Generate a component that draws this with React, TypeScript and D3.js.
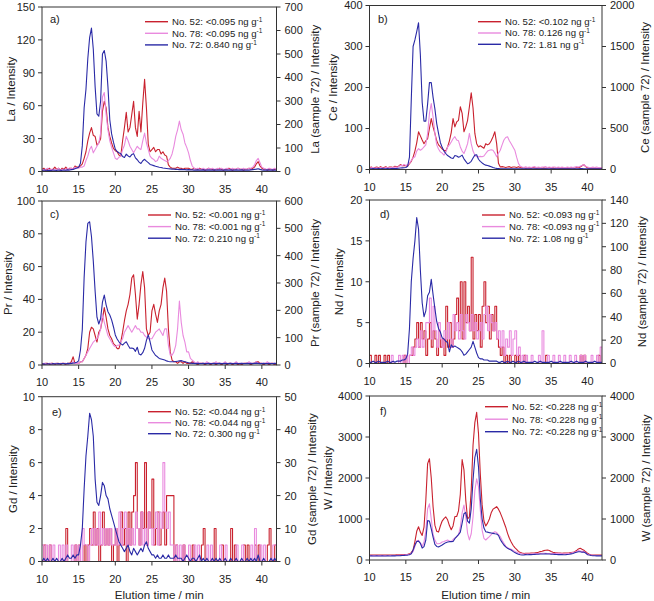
import React from "react";
import * as d3 from "d3";

// ---------- DATA ----------
const TIME = [
  10, 10.25, 10.5, 10.75, 11, 11.25, 11.5, 11.75, 12, 12.25, 12.5, 12.75, 13, 13.25, 13.5, 13.75,
  14, 14.25, 14.5, 14.75, 15, 15.25, 15.5, 15.75, 16, 16.25, 16.5, 16.75, 17, 17.25, 17.5, 17.75,
  18, 18.25, 18.5, 18.75, 19, 19.25, 19.5, 19.75, 20, 20.25, 20.5, 20.75, 21, 21.25, 21.5, 21.75,
  22, 22.25, 22.5, 22.75, 23, 23.25, 23.5, 23.75, 24, 24.25, 24.5, 24.75, 25, 25.25, 25.5, 25.75,
  26, 26.25, 26.5, 26.75, 27, 27.25, 27.5, 27.75, 28, 28.25, 28.5, 28.75, 29, 29.25, 29.5, 29.75,
  30, 30.25, 30.5, 30.75, 31, 31.25, 31.5, 31.75, 32, 32.25, 32.5, 32.75, 33, 33.25, 33.5, 33.75,
  34, 34.25, 34.5, 34.75, 35, 35.25, 35.5, 35.75, 36, 36.25, 36.5, 36.75, 37, 37.25, 37.5, 37.75,
  38, 38.25, 38.5, 38.75, 39, 39.25, 39.5, 39.75, 40, 40.25, 40.5, 40.75, 41, 41.25, 41.5, 41.75,
  42,
];

const X_TICKS = [10, 15, 20, 25, 30, 35, 40];
const SAMPLES = ["No. 52", "No. 78", "No. 72"];

// a) La
const LA_52 = [
  2, 3, 1, 2, 3, 1, 2, 4, 2, 3, 1, 3, 2, 4, 2, 3,
  3, 2, 5, 4, 4, 5, 7, 12, 18, 28, 35, 40, 33, 32, 24, 26,
  30, 55, 64, 58, 40, 32, 26, 21, 19, 18, 15, 14, 28, 40, 54, 36,
  40, 52, 64, 40, 32, 55, 36, 62, 84, 58, 25, 18, 20, 22, 18, 20,
  20, 16, 18, 15, 14, 6, 4, 3, 3, 3, 4, 3, 3, 2, 3, 3,
  3, 2, 2, 3, 2, 2, 3, 2, 2, 1, 2, 3, 2, 2, 1, 2,
  2, 3, 2, 1, 2, 2, 3, 2, 1, 2, 2, 3, 2, 2, 1, 2,
  2, 3, 2, 3, 4, 7, 9, 5, 3, 2, 2, 1, 2, 2, 1, 2,
  2,
];
const LA_78 = [
  2, 1, 2, 3, 1, 2, 2, 1, 2, 3, 1, 2, 2, 1, 3, 2,
  3, 2, 4, 3, 3, 4, 4, 5, 10, 14, 20, 23, 17, 20, 23, 26,
  35, 68, 72, 52, 38, 28, 22, 17, 12, 11, 13, 14, 20, 24, 32, 28,
  23, 20, 17, 20, 23, 21, 20, 28, 35, 26, 20, 14, 12, 11, 9, 10,
  14, 12, 11, 10, 9, 10, 12, 16, 23, 32, 38, 46, 38, 34, 26, 22,
  17, 10, 5, 3, 2, 3, 2, 2, 3, 2, 2, 3, 2, 3, 2, 2,
  3, 2, 3, 2, 2, 3, 2, 2, 3, 2, 2, 3, 2, 2, 3, 2,
  2, 3, 3, 4, 6, 10, 12, 8, 4, 3, 2, 2, 3, 2, 2, 3,
  2,
];
const LA_72 = [
  4, 6, 5, 4, 5, 4, 6, 5, 4, 6, 5, 5, 6, 5, 7, 6,
  8, 9, 12, 15, 18, 35, 110, 270, 350, 480, 570, 610, 520, 360, 245, 235,
  300, 500, 515, 470, 360, 220, 160, 125, 95, 85, 80, 76, 64, 60, 74, 66,
  62, 72, 76, 58, 50, 40, 34, 46, 52, 44, 38, 30, 28, 25, 22, 20,
  18, 17, 15, 14, 13, 12, 11, 10, 10, 9, 9, 8, 9, 8, 8, 7,
  8, 7, 7, 6, 6, 7, 6, 6, 7, 6, 6, 7, 6, 6, 7, 6,
  6, 7, 6, 6, 7, 6, 6, 7, 6, 6, 7, 6, 6, 7, 6, 6,
  6, 6, 7, 8, 9, 10, 12, 9, 7, 6, 6, 7, 6, 6, 7, 6,
  6,
];
const LA_TICKS = [0, 30, 60, 90, 120, 150];
const LA72_TICKS = [0, 100, 200, 300, 400, 500, 600, 700];
const LA_CONC = ["<0.095", "<0.095", "0.840"];

// b) Ce
const CE_52 = [
  4, 6, 3, 5, 6, 4, 7, 5, 5, 7, 4, 6, 6, 5, 8, 6,
  8, 12, 9, 10, 9, 8, 14, 20, 30, 45, 65, 92, 82, 72, 63, 70,
  75, 100, 124, 104, 88, 70, 60, 55, 50, 47, 45, 55, 70, 90, 124, 104,
  116, 120, 153, 137, 92, 104, 120, 153, 187, 150, 88, 63, 55, 58, 55, 52,
  63, 60, 63, 70, 80, 92, 63, 15, 6, 7, 6, 5, 6, 7, 5, 6,
  6, 5, 7, 5, 4, 5, 3, 4, 4, 3, 5, 4, 3, 4, 4, 3,
  4, 3, 4, 5, 3, 4, 3, 4, 4, 3, 4, 3, 3, 4, 3, 4,
  4, 3, 5, 4, 6, 9, 12, 7, 4, 3, 4, 3, 4, 3, 3, 4,
  3,
];
const CE_78 = [
  3, 4, 5, 3, 4, 3, 5, 4, 3, 5, 4, 4, 5, 4, 6, 5,
  7, 10, 9, 12, 10, 12, 15, 22, 28, 31, 45, 51, 47, 50, 55, 60,
  88, 137, 161, 128, 88, 60, 50, 43, 40, 35, 42, 55, 60, 67, 75, 80,
  72, 70, 55, 45, 39, 50, 63, 88, 63, 45, 35, 31, 31, 32, 31, 33,
  39, 45, 47, 48, 47, 40, 31, 40, 47, 60, 72, 78, 80, 70, 63, 55,
  47, 30, 15, 8, 6, 5, 7, 5, 6, 5, 6, 7, 5, 6, 5, 6,
  6, 7, 5, 6, 5, 6, 6, 5, 6, 5, 6, 5, 5, 6, 5, 6,
  5, 6, 7, 6, 8, 10, 12, 8, 6, 5, 5, 6, 5, 6, 5, 5,
  5,
];
const CE_72 = [
  10, 8, 12, 9, 10, 12, 9, 11, 10, 9, 12, 10, 12, 11, 13, 12,
  15, 18, 20, 22, 25, 40, 150, 850, 1500, 1580, 1680, 1790, 1400, 820, 590, 590,
  800, 1060, 1060, 880, 740, 560, 440, 330, 270, 225, 195, 170, 155, 140, 135, 170,
  165, 150, 160, 175, 130, 100, 70, 80, 100, 140, 175, 180, 125, 100, 80, 65,
  53, 48, 41, 34, 24, 18, 14, 12, 10, 9, 10, 8, 9, 10, 8, 9,
  8, 9, 10, 8, 9, 8, 9, 10, 8, 9, 8, 9, 10, 8, 9, 8,
  9, 10, 8, 9, 8, 9, 10, 8, 9, 8, 9, 8, 10, 9, 8, 9,
  8, 10, 9, 10, 11, 12, 10, 9, 8, 9, 8, 9, 10, 8, 9, 8,
  9,
];
const CE_TICKS = [0, 100, 200, 300, 400];
const CE72_TICKS = [0, 500, 1000, 1500, 2000];
const CE_CONC = ["<0.102", "0.126", "1.81"];

// c) Pr
const PR_52 = [
  1, 0, 1, 1, 0, 1, 1, 0, 1, 1, 0, 1, 1, 0, 1, 1,
  2, 5, 1, 1, 1, 2, 2, 4, 6, 10, 20, 23, 22, 18, 14, 20,
  22, 28, 35, 29, 22, 18, 16, 13, 12, 10, 10, 14, 20, 27, 33, 37,
  43, 53, 55, 43, 28, 37, 49, 57, 47, 22, 18, 20, 33, 37, 31, 26,
  33, 37, 47, 53, 45, 22, 8, 3, 2, 2, 1, 2, 2, 1, 2, 1,
  1, 1, 2, 1, 1, 0, 1, 1, 1, 0, 1, 1, 0, 1, 1, 0,
  1, 1, 0, 1, 1, 0, 1, 1, 0, 1, 1, 0, 1, 0, 1, 1,
  1, 1, 0, 1, 1, 2, 2, 1, 1, 0, 1, 1, 0, 1, 1, 0,
  1,
];
const PR_78 = [
  0, 1, 1, 0, 1, 1, 0, 1, 1, 0, 1, 1, 1, 1, 0, 1,
  1, 2, 1, 1, 1, 2, 2, 4, 6, 8, 10, 12, 14, 15, 16, 18,
  22, 31, 26, 22, 18, 16, 14, 12, 11, 12, 12, 14, 16, 20, 22, 24,
  22, 20, 22, 24, 22, 22, 20, 20, 18, 17, 16, 16, 16, 18, 20, 21,
  22, 20, 18, 22, 22, 12, 6, 6, 8, 12, 22, 39, 26, 18, 14, 8,
  8, 4, 3, 2, 1, 2, 1, 1, 1, 1, 2, 1, 1, 1, 1, 2,
  1, 1, 1, 1, 2, 1, 1, 1, 1, 1, 2, 1, 1, 1, 1, 1,
  1, 2, 1, 1, 1, 2, 1, 1, 1, 1, 1, 2, 1, 1, 1, 1,
  1,
];
const PR_72 = [
  3, 4, 3, 4, 4, 3, 5, 4, 4, 5, 4, 5, 5, 4, 6, 5,
  6, 7, 8, 10, 15, 55, 130, 320, 450, 518, 524, 470, 380, 270, 175, 150,
  170, 230, 256, 220, 195, 183, 165, 140, 110, 95, 85, 78, 73, 80, 85, 72,
  61, 62, 60, 50, 65, 40, 37, 45, 61, 90, 110, 85, 55, 45, 35, 30,
  24, 22, 20, 18, 15, 13, 12, 12, 12, 13, 14, 15, 16, 14, 12, 10,
  8, 7, 6, 6, 5, 6, 5, 5, 6, 5, 5, 6, 5, 5, 6, 5,
  5, 6, 5, 5, 6, 5, 5, 6, 5, 5, 6, 5, 5, 6, 5, 5,
  6, 5, 6, 5, 6, 7, 6, 5, 5, 6, 5, 5, 6, 5, 5, 6,
  5,
];
const PR_TICKS = [0, 20, 40, 60, 80, 100];
const PR72_TICKS = [0, 100, 200, 300, 400, 500, 600];
const PR_CONC = ["<0.001", "<0.001", "0.210"];

// d) Nd
const ND_52 = [
  1, 0, 0, 1, 0, 1, 0, 0, 1, 0, 1, 0, 0, 0, 0, 0,
  0, 0, 0, 1, 0, 0, 1, 1, 2, 3, 5, 2, 5, 3, 4, 1,
  3, 5, 2, 4, 3, 1, 4, 2, 3, 1, 7, 2, 5, 2, 3, 6,
  8, 4, 10, 3, 10, 5, 7, 4, 13, 3, 6, 4, 6, 2, 7, 10,
  5, 7, 3, 6, 4, 7, 3, 2, 1, 2, 0, 1, 0, 1, 0, 0,
  1, 0, 1, 0, 0, 1, 0, 0, 0, 0, 0, 0, 0, 0, 0, 0,
  0, 1, 0, 0, 0, 0, 0, 0, 0, 0, 0, 0, 0, 0, 0, 0,
  0, 0, 0, 0, 1, 0, 1, 0, 0, 0, 0, 0, 0, 0, 1, 0,
  0,
];
const ND_78 = [
  0, 0, 0, 0, 0, 0, 0, 0, 0, 0, 0, 0, 1, 0, 0, 0,
  1, 0, 1, 0, 1, 0, 1, 2, 1, 2, 3, 2, 4, 2, 3, 5,
  5, 8, 3, 7, 4, 2, 5, 3, 2, 4, 3, 5, 3, 2, 6, 4,
  5, 3, 6, 4, 3, 6, 5, 4, 6, 4, 5, 3, 4, 5, 3, 6,
  7, 4, 6, 5, 4, 5, 3, 4, 2, 4, 1, 3, 2, 4, 1, 3,
  4, 1, 2, 0, 1, 0, 1, 0, 0, 1, 0, 0, 0, 1, 0, 4,
  0, 0, 1, 0, 0, 1, 0, 0, 1, 0, 0, 1, 0, 0, 1, 0,
  0, 1, 0, 0, 1, 0, 1, 0, 0, 0, 1, 0, 0, 1, 0, 2,
  0,
];
const ND_72 = [
  1, 1, 2, 1, 1, 2, 1, 1, 1, 1, 2, 1, 1, 2, 1, 2,
  2, 2, 3, 3, 4, 8, 30, 70, 90, 105, 125, 115, 80, 52, 40, 45,
  58, 61, 72, 59, 47, 36, 30, 27, 22, 21, 19, 18, 10, 16, 14, 15,
  14, 13, 12, 10, 7, 8, 10, 12, 14, 19, 14, 9, 5, 4, 4, 3,
  3, 3, 2, 2, 2, 2, 2, 1, 1, 2, 1, 1, 2, 1, 1, 2,
  1, 1, 2, 1, 1, 2, 1, 1, 1, 1, 1, 2, 1, 1, 2, 1,
  1, 1, 1, 1, 2, 1, 1, 1, 1, 2, 1, 1, 1, 1, 1, 2,
  1, 1, 2, 1, 1, 1, 1, 2, 1, 1, 1, 1, 2, 1, 1, 1,
  1,
];
const ND_TICKS = [0, 5, 10, 15, 20];
const ND72_TICKS = [0, 20, 40, 60, 80, 100, 120, 140];
const ND_CONC = ["<0.093", "<0.093", "1.08"];

// e) Gd
const GD_52 = [
  0, 1, 0, 0, 1, 0, 0, 0, 0, 0, 0, 0, 0, 2, 0, 0,
  0, 0, 1, 0, 1, 0, 0, 1, 0, 1, 2, 1, 3, 1, 2, 0,
  1, 3, 1, 2, 1, 2, 0, 1, 2, 0, 1, 3, 1, 2, 0, 3,
  1, 3, 4, 6, 2, 1, 3, 2, 6, 1, 3, 2, 5, 1, 2, 3,
  1, 2, 3, 1, 4, 4, 4, 4, 0, 1, 0, 0, 0, 1, 0, 0,
  0, 0, 1, 0, 0, 0, 0, 1, 2, 0, 0, 0, 0, 0, 2, 0,
  0, 0, 1, 0, 0, 0, 0, 2, 0, 1, 0, 0, 0, 0, 1, 0,
  1, 0, 0, 0, 1, 0, 1, 0, 0, 0, 0, 1, 2, 0, 0, 1,
  0,
];
const GD_78 = [
  1, 0, 1, 0, 1, 0, 1, 0, 0, 1, 0, 1, 0, 1, 0, 0,
  1, 0, 1, 0, 1, 0, 2, 1, 1, 0, 1, 2, 1, 2, 1, 3,
  1, 2, 1, 2, 1, 2, 1, 1, 2, 1, 3, 1, 2, 3, 1, 2,
  1, 2, 1, 3, 2, 1, 3, 1, 2, 1, 3, 2, 1, 2, 3, 1,
  3, 2, 6, 3, 2, 3, 1, 1, 0, 1, 0, 1, 0, 1, 0, 0,
  1, 0, 0, 1, 0, 1, 0, 0, 0, 0, 1, 0, 1, 0, 0, 0,
  0, 1, 0, 0, 1, 0, 0, 0, 0, 0, 1, 0, 0, 1, 0, 0,
  0, 0, 1, 0, 2, 0, 0, 1, 0, 1, 0, 0, 0, 0, 1, 1,
  0,
];
const GD_72 = [
  0, 1, 0, 1, 0, 0, 1, 0, 1, 0, 0, 1, 0, 1, 2, 1,
  1, 2, 1, 2, 2, 5, 10, 22, 32, 38, 45, 43, 38, 25, 18, 17,
  20, 24, 23, 20, 19, 16, 14, 12, 10, 8, 6, 5, 4, 3, 4, 5,
  3, 2, 4, 3, 2, 3, 4, 3, 5, 6, 4, 3, 2, 2, 1, 2,
  1, 1, 2, 1, 1, 2, 1, 1, 1, 2, 1, 1, 1, 0, 1, 2,
  1, 0, 1, 1, 0, 1, 2, 0, 1, 0, 1, 0, 0, 1, 0, 1,
  0, 1, 0, 0, 1, 0, 0, 1, 0, 0, 1, 0, 0, 1, 0, 0,
  1, 0, 1, 0, 1, 0, 2, 0, 0, 1, 0, 0, 0, 1, 0, 1,
  0,
];
const GD_TICKS = [0, 2, 4, 6, 8, 10];
const GD72_TICKS = [0, 10, 20, 30, 40, 50];
const GD_CONC = ["<0.044", "<0.044", "0.300"];

// f) W
const W_52 = [
  120, 118, 122, 120, 121, 119, 120, 122, 120, 121, 119, 122, 121, 123, 122, 124,
  125, 127, 130, 132, 135, 140, 150, 180, 244, 450, 700, 810, 680, 600, 800, 1450,
  2350, 2470, 2000, 1300, 850, 700, 680, 830, 950, 1010, 1050, 980, 840, 740, 830, 1060,
  1060, 1200, 1600, 2450, 2200, 1460, 1000, 1050, 1700, 2800, 3350, 3600, 3090, 2100, 1350, 950,
  830, 900, 1000, 1150, 1240, 1270, 1300, 1240, 1150, 1040, 920, 800, 650, 530, 440, 360,
  300, 260, 210, 185, 170, 160, 165, 163, 165, 170, 172, 175, 180, 190, 205, 215,
  228, 238, 244, 230, 205, 190, 180, 175, 170, 168, 165, 168, 170, 172, 175, 180,
  185, 200, 230, 270, 285, 260, 240, 200, 165, 140, 125, 122, 120, 121, 120, 122,
  120,
];
const W_78 = [
  108, 106, 110, 107, 106, 109, 107, 108, 107, 106, 109, 108, 110, 108, 111, 112,
  114, 116, 118, 120, 125, 130, 140, 160, 203, 330, 470, 480, 420, 330, 440, 700,
  1250, 1370, 1000, 620, 488, 400, 395, 410, 440, 450, 470, 488, 460, 450, 500, 540,
  569, 620, 800, 1150, 1340, 1060, 650, 490, 640, 1050, 1700, 1980, 1790, 1220, 730, 528,
  488, 530, 570, 620, 660, 690, 670, 620, 569, 480, 410, 340, 300, 280, 260, 240,
  210, 190, 170, 155, 150, 146, 145, 146, 147, 148, 150, 152, 155, 158, 160, 163,
  165, 163, 160, 160, 160, 158, 160, 162, 160, 155, 150, 150, 152, 155, 160, 170,
  179, 190, 210, 228, 220, 205, 210, 180, 140, 130, 120, 115, 112, 110, 108, 110,
  108,
];
const W_72 = [
  98, 100, 97, 99, 100, 98, 99, 101, 99, 98, 100, 99, 100, 102, 101, 103,
  105, 107, 110, 112, 115, 120, 130, 150, 244, 366, 450, 460, 407, 290, 325, 488,
  960, 950, 760, 560, 380, 330, 320, 340, 366, 395, 423, 440, 447, 447, 450, 520,
  570, 620, 680, 900, 1130, 1160, 950, 900, 1250, 1950, 2500, 2700, 2276, 1500, 1000, 780,
  691, 680, 667, 660, 650, 640, 634, 600, 500, 430, 366, 320, 285, 260, 244, 210,
  180, 160, 140, 130, 122, 125, 130, 128, 130, 132, 135, 138, 140, 142, 145, 145,
  148, 150, 148, 145, 142, 140, 138, 135, 132, 130, 130, 128, 130, 135, 140, 150,
  160, 175, 190, 200, 200, 190, 195, 170, 130, 120, 110, 105, 102, 100, 100, 102,
  100,
];
const W_TICKS = [0, 1000, 2000, 3000, 4000];
const W72_TICKS = [0, 1000, 2000, 3000, 4000];
const W_CONC = ["<0.228", "<0.228", "<0.228"];

// ---------- STYLE / LAYOUT ----------
const COLORS = ["#c9212e", "#e98ade", "#2a2aa6"];
const FONT = "'Liberation Sans', Arial, sans-serif";

type PanelDef = {
  label: string;
  el: string;
  x0: number;
  x1: number;
  top: number;
  bottom: number;
  lTicks: number[];
  rTicks: number[];
  conc: string[];
  s52: number[];
  s78: number[];
  s72: number[];
  step: boolean;
  ltX: number;
  rtX: number;
  legX: number;
  legY: number;
  legDy: number;
  labelX: number;
  labelY: number;
  xLabel: boolean;
};

const LEFT = { x0: 42, x1: 276.5 };
const RIGHT = { x0: 369.5, x1: 602 };

const PANELS: PanelDef[] = [
  { label: "a)", el: "La", ...LEFT, top: 7, bottom: 171.5, lTicks: LA_TICKS, rTicks: LA72_TICKS, conc: LA_CONC,
    s52: LA_52, s78: LA_78, s72: LA_72, step: false, ltX: 15, rtX: 318.5, legX: 145, legY: 21.7, legDy: 11.6, labelX: 50, labelY: 23, xLabel: false },
  { label: "b)", el: "Ce", ...RIGHT, top: 5.5, bottom: 169.5, lTicks: CE_TICKS, rTicks: CE72_TICKS, conc: CE_CONC,
    s52: CE_52, s78: CE_78, s72: CE_72, step: false, ltX: 336.5, rtX: 649, legX: 478, legY: 21.7, legDy: 11.3, labelX: 378, labelY: 23, xLabel: false },
  { label: "c)", el: "Pr", ...LEFT, top: 201, bottom: 365, lTicks: PR_TICKS, rTicks: PR72_TICKS, conc: PR_CONC,
    s52: PR_52, s78: PR_78, s72: PR_72, step: false, ltX: 11.5, rtX: 318.5, legX: 148, legY: 215, legDy: 11.6, labelX: 50, labelY: 218, xLabel: false },
  { label: "d)", el: "Nd", ...RIGHT, top: 200, bottom: 363.5, lTicks: ND_TICKS, rTicks: ND72_TICKS, conc: ND_CONC,
    s52: ND_52, s78: ND_78, s72: ND_72, step: true, ltX: 343, rtX: 645.5, legX: 482, legY: 215, legDy: 11.6, labelX: 380, labelY: 218, xLabel: false },
  { label: "e)", el: "Gd", ...LEFT, top: 396.7, bottom: 561.5, lTicks: GD_TICKS, rTicks: GD72_TICKS, conc: GD_CONC,
    s52: GD_52, s78: GD_78, s72: GD_72, step: true, ltX: 16.5, rtX: 315.5, legX: 148, legY: 411.7, legDy: 11, labelX: 52, labelY: 416, xLabel: true },
  { label: "f)", el: "W", ...RIGHT, top: 396, bottom: 560, lTicks: W_TICKS, rTicks: W72_TICKS, conc: W_CONC,
    s52: W_52, s78: W_78, s72: W_72, step: false, ltX: 331.5, rtX: 650, legX: 485, legY: 406.7, legDy: 12.5, labelX: 380, labelY: 415, xLabel: true },
];

function Panel({ p }: { p: PanelDef }) {
  const lMax = p.lTicks[p.lTicks.length - 1];
  const rMax = p.rTicks[p.rTicks.length - 1];
  const x = d3.scaleLinear().domain([10, 42]).range([p.x0, p.x1]);
  const yl = d3.scaleLinear().domain([0, lMax]).range([p.bottom, p.top]);
  const yr = d3.scaleLinear().domain([0, rMax]).range([p.bottom, p.top]);
  const curve = p.step ? d3.curveStepAfter : d3.curveLinear;
  const lineL = d3
    .line<number>()
    .defined((d) => d !== undefined)
    .x((_, i) => x(TIME[i]))
    .y((d) => yl(d))
    .curve(curve);
  const lineR = d3
    .line<number>()
    .defined((d) => d !== undefined)
    .x((_, i) => x(TIME[i]))
    .y((d) => yr(d));
  const clipId = "clip-" + p.el;
  const midY = (p.top + p.bottom) / 2;
  const axisColor = "#333";
  return (
    <g fontFamily={FONT}>
      <defs>
        <clipPath id={clipId}>
          <rect x={p.x0} y={p.top - 2} width={p.x1 - p.x0} height={p.bottom - p.top + 2} />
        </clipPath>
      </defs>
      <g clipPath={`url(#${clipId})`} fill="none" strokeWidth={1.1} strokeLinejoin="round">
        <path d={lineL(p.s52) || ""} stroke={COLORS[0]} />
        <path d={lineL(p.s78) || ""} stroke={COLORS[1]} />
        <path d={lineR(p.s72) || ""} stroke={COLORS[2]} />
      </g>
      <rect x={p.x0} y={p.top} width={p.x1 - p.x0} height={p.bottom - p.top} fill="none" stroke={axisColor} strokeWidth={1} />
      {/* left axis */}
      {p.lTicks.map((t) => (
        <g key={"l" + t}>
          <line x1={p.x0 - 4} x2={p.x0} y1={yl(t)} y2={yl(t)} stroke={axisColor} />
          <text x={p.x0 - 7} y={yl(t)} dy="0.36em" textAnchor="end" fontSize={11} fill="#222">{t}</text>
        </g>
      ))}
      {/* right axis */}
      {p.rTicks.map((t) => (
        <g key={"r" + t}>
          <line x1={p.x1} x2={p.x1 + 4} y1={yr(t)} y2={yr(t)} stroke={axisColor} />
          <text x={p.x1 + 8} y={yr(t)} dy="0.36em" textAnchor="start" fontSize={11} fill="#222">{t}</text>
        </g>
      ))}
      {/* bottom axis */}
      {X_TICKS.map((t) => (
        <g key={"x" + t}>
          <line x1={x(t)} x2={x(t)} y1={p.bottom} y2={p.bottom + 4} stroke={axisColor} />
          <text x={x(t)} y={p.bottom + 21} textAnchor="middle" fontSize={11} fill="#222">{t}</text>
        </g>
      ))}
      {p.xLabel && (
        <text x={(p.x0 + p.x1) / 2} y={599} textAnchor="middle" fontSize={11.6} fill="#222">Elution time / min</text>
      )}
      <text transform={`translate(${p.ltX},${midY}) rotate(-90)`} textAnchor="middle" fontSize={11.5} fill="#222">
        {p.el} / Intensity
      </text>
      <text transform={`translate(${p.rtX},${midY}) rotate(-90)`} textAnchor="middle" fontSize={11.5} fill="#222">
        {p.el} (sample 72) / Intensity
      </text>
      <text x={p.labelX} y={p.labelY} fontSize={11} fill="#222">{p.label}</text>
      {SAMPLES.map((s, i) => {
        const y = p.legY + i * p.legDy;
        return (
          <g key={s}>
            <line x1={p.legX} x2={p.legX + 23} y1={y} y2={y} stroke={COLORS[i]} strokeWidth={1.4} />
            <text x={p.legX + 27} y={y} dy="0.35em" fontSize={9.6} fill="#222">
              {s}: {p.conc[i]} ng g
              <tspan dy={-3.5} fontSize={6.5}>-1</tspan>
            </text>
          </g>
        );
      })}
    </g>
  );
}

export default function App() {
  return (
    <svg
      width={654}
      height={601}
      viewBox="0 0 654 601"
      style={{ position: "absolute", left: 0, top: 0, background: "#fff" }}
    >
      <rect x={0} y={0} width={654} height={601} fill="#fff" />
      {PANELS.map((p) => (
        <Panel key={p.label} p={p} />
      ))}
    </svg>
  );
}
